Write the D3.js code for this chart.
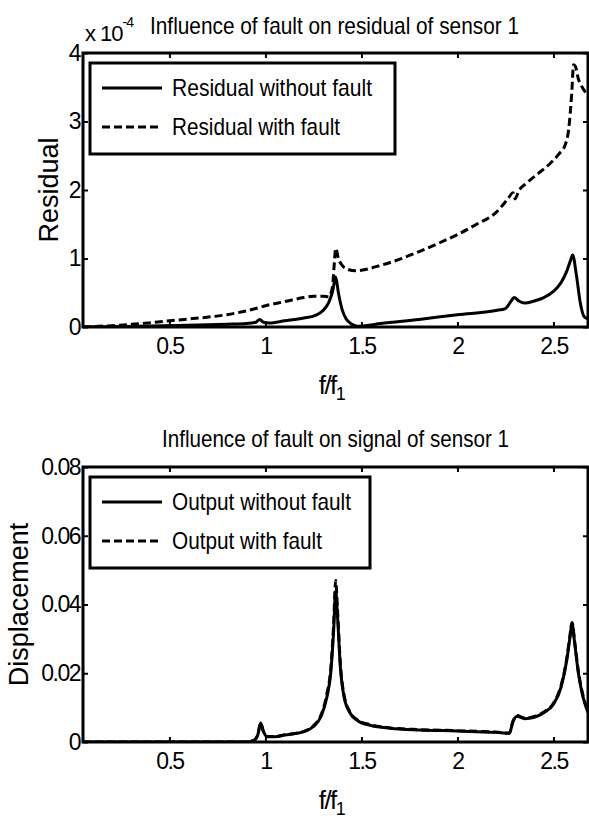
<!DOCTYPE html>
<html>
<head>
<meta charset="utf-8">
<script src="https://cdn.jsdelivr.net/npm/d3@7"></script>
<style>
  body { margin: 0; background: #fff; }
  svg { display: block; font-family: "Liberation Sans", Arial, sans-serif; }
</style>
</head>
<body>
<div id="chart"></div>
<script>
// residual plot (values in units of 1e-4)
const resFreqA = [0.05,0.2,0.4,0.6,0.8,0.9,0.95,0.97,0.99,1.02,1.1,1.2,1.26,1.3,1.33,1.35,1.366,1.38,1.40,1.42,1.45,1.48,1.52,1.6,1.8,2.0,2.2,2.25,2.28,2.295,2.32,2.35,2.4,2.45,2.5,2.54,2.57,2.59,2.60,2.62,2.64,2.66,2.68];
const resNoFault = [0,0.005,0.015,0.025,0.04,0.05,0.07,0.11,0.07,0.06,0.09,0.13,0.17,0.24,0.36,0.52,0.73,0.5,0.25,0.12,0.04,0.01,0.02,0.05,0.11,0.18,0.24,0.27,0.38,0.43,0.38,0.35,0.38,0.43,0.52,0.65,0.82,0.98,1.05,0.75,0.35,0.15,0.12];
const resFreqB = [0.05,0.2,0.35,0.5,0.65,0.8,0.95,1.0,1.1,1.2,1.25,1.3,1.33,1.35,1.358,1.366,1.38,1.40,1.43,1.47,1.52,1.6,1.7,1.8,1.9,2.0,2.1,2.2,2.26,2.29,2.30,2.32,2.36,2.42,2.48,2.53,2.56,2.58,2.595,2.605,2.615,2.63,2.65,2.68];
const resFault = [0,0.02,0.05,0.09,0.13,0.18,0.27,0.31,0.37,0.43,0.45,0.45,0.44,0.6,0.9,1.15,1.0,0.9,0.84,0.82,0.84,0.9,0.99,1.1,1.22,1.35,1.5,1.67,1.86,1.96,1.87,1.99,2.1,2.24,2.38,2.53,2.65,2.9,3.4,3.83,3.8,3.62,3.5,3.38];

// displacement plot
const outFreq = [0.05,0.5,0.9,0.94,0.96,0.975,0.99,1.01,1.05,1.1,1.2,1.25,1.29,1.32,1.34,1.355,1.366,1.375,1.39,1.41,1.44,1.48,1.55,1.65,1.8,2.0,2.1,2.2,2.27,2.29,2.31,2.35,2.4,2.45,2.5,2.54,2.57,2.585,2.597,2.61,2.63,2.65,2.68];
const outNoFault = [0,0,0,0.0005,0.002,0.0055,0.003,0.0015,0.0015,0.002,0.003,0.0045,0.0075,0.013,0.02,0.032,0.044,0.037,0.022,0.013,0.0085,0.0062,0.0048,0.004,0.0035,0.0032,0.003,0.0028,0.0025,0.006,0.0075,0.0068,0.0072,0.0085,0.011,0.016,0.024,0.03,0.0345,0.029,0.02,0.014,0.0085];
const outFault = [0,0,0,0.0005,0.002,0.0055,0.003,0.0016,0.0016,0.0021,0.0031,0.0047,0.0079,0.014,0.021,0.034,0.047,0.039,0.023,0.0135,0.0088,0.0064,0.005,0.0041,0.0036,0.0033,0.0031,0.0029,0.0026,0.0062,0.0077,0.007,0.0074,0.0087,0.0113,0.0165,0.0245,0.0305,0.0348,0.0295,0.0205,0.0145,0.009];

const xTicks = [0.5, 1, 1.5, 2, 2.5];
const resTicks = [0, 1, 2, 3, 4];
const outTicks = [0, 0.02, 0.04, 0.06, 0.08];

let dim = {
  width: 589,
  height: 819,
  left: 83,
  right: 588
};

let svg = d3.select('#chart').append('svg')
  .attr('width', dim.width)
  .attr('height', dim.height);

let scaleX = d3.scaleLinear().domain([0.05, 2.68]).range([dim.left, dim.right]);

function drawPanel(cfg) {
  let y = d3.scaleLinear().domain(cfg.yDomain).range([cfg.bottom, cfg.top]);
  let g = svg.append('g');

  let clipId = 'clip' + cfg.id;
  svg.append('clipPath').attr('id', clipId)
    .append('rect')
    .attr('x', dim.left).attr('y', cfg.top)
    .attr('width', dim.right - dim.left).attr('height', cfg.bottom - cfg.top);

  // ticks on all four sides, pointing in
  g.append('g').attr('transform', `translate(0,${cfg.bottom})`)
    .call(d3.axisBottom(scaleX).tickValues(xTicks).tickSize(-5).tickPadding(11).tickFormat(d3.format('')));
  g.append('g').attr('transform', `translate(0,${cfg.top})`)
    .call(d3.axisTop(scaleX).tickValues(xTicks).tickSize(-5).tickFormat(''));
  g.append('g').attr('transform', `translate(${dim.left},0)`)
    .call(d3.axisLeft(y).tickValues(cfg.yTicks).tickSize(-5).tickPadding(3).tickFormat(d3.format('')));
  g.append('g').attr('transform', `translate(${dim.right},0)`)
    .call(d3.axisRight(y).tickValues(cfg.yTicks).tickSize(-5).tickFormat(''));

  g.selectAll('.domain').remove();
  g.selectAll('.tick line').attr('stroke', '#000').attr('stroke-width', 2);
  g.selectAll('.tick text')
    .attr('fill', '#000')
    .style('font-size', '23px')
    .style('letter-spacing', '-1.5px')
    .style('font-family', '"Liberation Sans", Arial, sans-serif');

  // curves
  cfg.series.forEach(s => {
    let pts = s.x.map((d, i) => [d, s.y[i]]);
    g.append('path')
      .datum(pts)
      .attr('clip-path', `url(#${clipId})`)
      .attr('fill', 'none')
      .attr('stroke', '#000')
      .attr('stroke-width', 3)
      .attr('stroke-dasharray', s.dash ? '8,4' : null)
      .attr('d', d3.line().x(d => scaleX(d[0])).y(d => y(d[1])).curve(d3.curveMonotoneX));
  });

  // box
  g.append('rect')
    .attr('x', dim.left).attr('y', cfg.top)
    .attr('width', dim.right - dim.left).attr('height', cfg.bottom - cfg.top)
    .attr('fill', 'none').attr('stroke', '#000').attr('stroke-width', 3);

  // legend
  let lg = g.append('g');
  lg.append('rect')
    .attr('x', 90).attr('y', cfg.top + 10)
    .attr('width', cfg.legendW).attr('height', 91)
    .attr('fill', '#fff').attr('stroke', '#000').attr('stroke-width', 3);
  cfg.series.forEach((s, i) => {
    let ly = cfg.top + 35 + i * 39;
    lg.append('line')
      .attr('x1', 102).attr('x2', 162).attr('y1', ly).attr('y2', ly)
      .attr('stroke', '#000').attr('stroke-width', 3)
      .attr('stroke-dasharray', s.dash ? '8,4' : null);
    lg.append('text')
      .attr('x', 172).attr('y', ly + 8)
      .attr('textLength', s.labelW).attr('lengthAdjust', 'spacingAndGlyphs')
      .style('font-size', '24px')
      .text(s.label);
  });

  // title
  svg.append('text')
    .attr('x', cfg.titleX).attr('y', cfg.titleY)
    .attr('textLength', cfg.titleW).attr('lengthAdjust', 'spacingAndGlyphs')
    .style('font-size', '24px')
    .text(cfg.title);

  // y label
  svg.append('text')
    .attr('transform', `translate(${cfg.yLabelX},${(cfg.top + cfg.bottom) / 2}) rotate(-90)`)
    .attr('text-anchor', 'middle')
    .style('font-size', '27px')
    .text(cfg.yLabel);

  // x label f/f1
  let xl = svg.append('text')
    .attr('x', (dim.left + dim.right) / 2 - 4).attr('y', cfg.bottom + 67)
    .attr('text-anchor', 'middle')
    .style('font-size', '26px')
    .style('letter-spacing', '-1.5px');
  xl.append('tspan').text('f/f');
  xl.append('tspan').attr('dy', 6).style('font-size', '18px').text('1');

  return y;
}

drawPanel({
  id: 'a', top: 53, bottom: 327, yDomain: [0, 4], yTicks: resTicks,
  legendW: 305, title: 'Influence of fault on residual of sensor 1',
  titleX: 150, titleY: 34, titleW: 369,
  yLabel: 'Residual', yLabelX: 58,
  series: [
    {x: resFreqA, y: resNoFault, dash: false, label: 'Residual without fault', labelW: 200},
    {x: resFreqB, y: resFault, dash: true, label: 'Residual with fault', labelW: 168}
  ]
});

drawPanel({
  id: 'b', top: 467, bottom: 742, yDomain: [0, 0.08], yTicks: outTicks,
  legendW: 280, title: 'Influence of fault on signal of sensor 1',
  titleX: 162, titleY: 447, titleW: 347,
  yLabel: 'Displacement', yLabelX: 28,
  series: [
    {x: outFreq, y: outNoFault, dash: false, label: 'Output without fault', labelW: 179},
    {x: outFreq, y: outFault, dash: true, label: 'Output with fault', labelW: 150}
  ]
});

// exponent label for the residual axis
let ex = svg.append('text').attr('x', 85).attr('y', 41)
  .style('font-size', '22px').style('letter-spacing', '-1px');
ex.append('tspan').text('x 10');
ex.append('tspan').attr('dy', -14).style('font-size', '14px').text('-4');
</script>
</body>
</html>
